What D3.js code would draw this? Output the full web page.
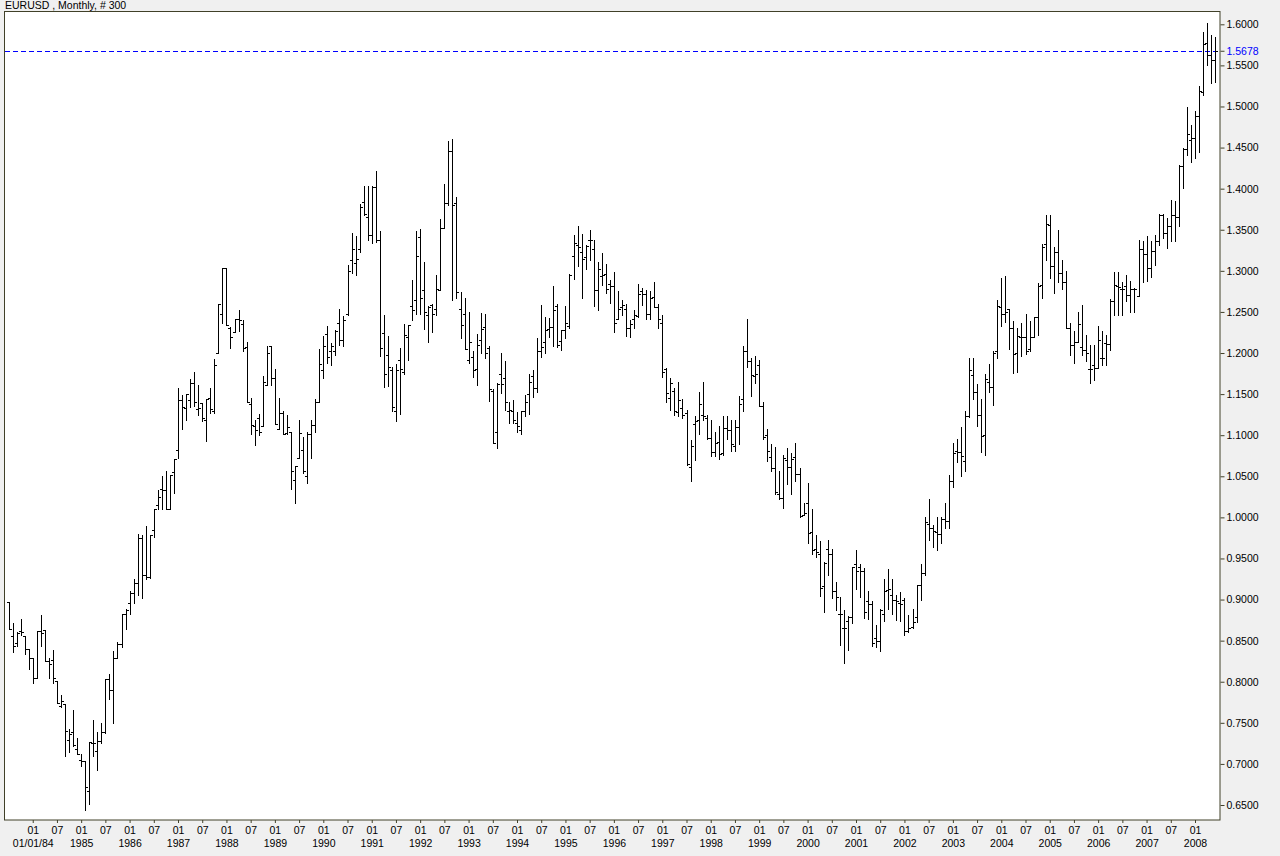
<!DOCTYPE html>
<html>
<head>
<meta charset="utf-8">
<script src="https://cdn.jsdelivr.net/npm/d3@7"></script>
<style>
body { margin: 0; background: #f0f0f0; }
svg { display: block; font-family: "Liberation Sans", Arial, sans-serif; }
</style>
</head>
<body>
<svg id="chart" width="1280" height="856"></svg>
<script>
var title = "EURUSD , Monthly, # 300";
var startYear = 1983, startMonth = 7;   // first bar: July 1983
var lastClose = 1.5678;

// monthly OHLC, July 1983 .. June 2008
var opens = [
 0.897,0.856,0.847,0.862,0.856,0.840,0.829,0.805,0.862,0.863,0.825,0.827,
 0.801,0.770,0.773,0.729,0.739,0.718,0.705,0.704,0.667,0.726,0.716,0.728,
 0.739,0.803,0.790,0.829,0.846,0.882,0.896,0.908,0.920,0.975,0.930,0.927,
 0.985,1.015,1.035,1.033,1.010,1.055,1.082,1.143,1.133,1.143,1.164,1.132,
 1.139,1.118,1.145,1.129,1.200,1.248,1.304,1.230,1.226,1.242,1.235,1.207,
 1.138,1.111,1.121,1.111,1.161,1.208,1.169,1.108,1.127,1.103,1.104,1.045,
 1.072,1.082,1.050,1.102,1.113,1.141,1.179,1.223,1.202,1.203,1.237,1.216,
 1.247,1.313,1.309,1.326,1.384,1.365,1.344,1.402,1.338,1.224,1.198,1.179,
 1.129,1.192,1.177,1.220,1.257,1.265,1.341,1.277,1.246,1.258,1.253,1.277,
 1.352,1.383,1.446,1.383,1.253,1.248,1.192,1.195,1.180,1.216,1.232,1.206,
 1.154,1.104,1.175,1.169,1.129,1.130,1.115,1.106,1.129,1.150,1.172,1.157,
 1.202,1.214,1.229,1.232,1.257,1.215,1.228,1.233,1.318,1.331,1.323,1.317,
 1.338,1.327,1.277,1.294,1.296,1.284,1.282,1.242,1.256,1.254,1.230,1.242,
 1.245,1.276,1.272,1.248,1.268,1.256,1.237,1.180,1.145,1.154,1.128,1.133,
 1.127,1.061,1.114,1.119,1.125,1.121,1.097,1.080,1.092,1.078,1.109,1.106,
 1.087,1.110,1.144,1.203,1.190,1.172,1.186,1.136,1.100,1.074,1.060,1.029,
 1.023,1.070,1.061,1.074,1.053,1.003,1.017,0.982,0.961,0.956,0.917,0.961,
 0.956,0.910,0.883,0.865,0.874,0.879,0.943,0.940,0.935,0.898,0.895,0.853,
 0.849,0.883,0.912,0.906,0.900,0.896,0.900,0.862,0.867,0.879,0.918,0.932,
 0.992,0.987,0.982,0.980,0.998,0.995,1.044,1.081,1.080,1.068,1.123,1.173,
 1.152,1.125,1.100,1.165,1.159,1.203,1.256,1.248,1.254,1.231,1.200,1.220,
 1.219,1.205,1.220,1.244,1.283,1.333,1.356,1.306,1.323,1.297,1.287,1.231,
 1.210,1.214,1.207,1.204,1.181,1.185,1.182,1.194,1.212,1.211,1.263,1.281,
 1.278,1.282,1.271,1.278,1.269,1.327,1.320,1.303,1.324,1.336,1.368,1.346,
 1.355,1.368,1.365,1.428,1.448,1.459,1.462,1.488,1.518,1.577,1.563,1.557
];
var highs = [
 0.897,0.871,0.860,0.876,0.856,0.840,0.829,0.862,0.881,0.863,0.829,0.839,
 0.801,0.784,0.773,0.743,0.766,0.731,0.712,0.704,0.727,0.754,0.739,0.750,
 0.803,0.810,0.837,0.848,0.882,0.889,0.910,0.925,0.980,0.978,0.990,0.979,
 1.010,1.033,1.050,1.057,1.052,1.071,1.157,1.149,1.150,1.168,1.177,1.161,
 1.139,1.144,1.158,1.193,1.260,1.304,1.304,1.232,1.242,1.252,1.240,1.214,
 1.145,1.119,1.126,1.172,1.208,1.208,1.181,1.145,1.130,1.125,1.104,1.062,
 1.119,1.098,1.104,1.119,1.144,1.205,1.221,1.233,1.212,1.228,1.254,1.245,
 1.307,1.346,1.342,1.381,1.403,1.403,1.403,1.421,1.348,1.246,1.221,1.183,
 1.187,1.206,1.235,1.234,1.289,1.349,1.351,1.311,1.257,1.260,1.295,1.363,
 1.406,1.458,1.460,1.390,1.274,1.267,1.250,1.203,1.223,1.249,1.248,1.209,
 1.156,1.164,1.200,1.190,1.141,1.143,1.128,1.129,1.149,1.175,1.179,1.218,
 1.258,1.244,1.243,1.282,1.260,1.228,1.257,1.296,1.344,1.354,1.345,1.331,
 1.350,1.338,1.311,1.322,1.308,1.289,1.298,1.275,1.264,1.260,1.240,1.252,
 1.284,1.279,1.277,1.275,1.287,1.260,1.246,1.182,1.169,1.157,1.165,1.144,
 1.131,1.094,1.123,1.153,1.165,1.125,1.119,1.104,1.111,1.123,1.123,1.119,
 1.118,1.148,1.208,1.241,1.194,1.196,1.192,1.140,1.107,1.089,1.086,1.056,
 1.076,1.084,1.078,1.091,1.060,1.018,1.042,1.010,0.979,0.971,0.946,0.972,
 0.961,0.921,0.903,0.887,0.880,0.940,0.960,0.943,0.938,0.910,0.898,0.869,
 0.888,0.925,0.937,0.925,0.906,0.909,0.902,0.881,0.888,0.918,0.943,1.001,
 1.022,0.991,1.000,1.001,1.018,1.052,1.091,1.095,1.110,1.130,1.194,1.194,
 1.162,1.144,1.175,1.187,1.203,1.265,1.291,1.294,1.254,1.239,1.230,1.237,
 1.247,1.239,1.244,1.285,1.333,1.368,1.368,1.329,1.350,1.313,1.300,1.236,
 1.227,1.250,1.259,1.222,1.210,1.210,1.233,1.227,1.222,1.266,1.298,1.299,
 1.287,1.295,1.288,1.279,1.338,1.336,1.342,1.336,1.344,1.369,1.369,1.364,
 1.386,1.385,1.429,1.449,1.499,1.477,1.494,1.525,1.591,1.602,1.587,1.585
];
var lows = [
 0.864,0.836,0.844,0.857,0.834,0.815,0.798,0.805,0.843,0.825,0.805,0.798,
 0.774,0.769,0.710,0.714,0.722,0.712,0.698,0.644,0.651,0.710,0.692,0.725,
 0.738,0.779,0.750,0.829,0.842,0.864,0.883,0.896,0.905,0.902,0.925,0.926,
 0.976,1.010,1.010,1.010,1.010,1.030,1.072,1.108,1.118,1.134,1.135,1.125,
 1.117,1.093,1.127,1.127,1.200,1.236,1.234,1.206,1.226,1.227,1.203,1.140,
 1.102,1.088,1.100,1.111,1.161,1.161,1.114,1.108,1.102,1.102,1.034,1.017,
 1.072,1.054,1.042,1.072,1.104,1.140,1.169,1.188,1.186,1.198,1.210,1.208,
 1.246,1.297,1.295,1.323,1.368,1.338,1.334,1.335,1.196,1.159,1.160,1.130,
 1.117,1.126,1.175,1.192,1.240,1.248,1.248,1.229,1.214,1.226,1.246,1.277,
 1.352,1.380,1.265,1.267,1.218,1.205,1.188,1.171,1.161,1.200,1.194,1.142,
 1.090,1.084,1.151,1.131,1.115,1.115,1.104,1.102,1.123,1.126,1.147,1.153,
 1.195,1.200,1.220,1.209,1.207,1.204,1.218,1.230,1.290,1.306,1.267,1.302,
 1.313,1.257,1.252,1.283,1.273,1.261,1.225,1.241,1.246,1.221,1.220,1.230,
 1.244,1.258,1.242,1.242,1.256,1.231,1.171,1.141,1.131,1.124,1.123,1.121,
 1.064,1.044,1.070,1.102,1.119,1.095,1.075,1.075,1.071,1.076,1.095,1.081,
 1.081,1.089,1.130,1.183,1.148,1.164,1.136,1.095,1.069,1.056,1.029,1.022,
 1.012,1.041,1.029,1.044,1.000,1.003,0.969,0.956,0.952,0.904,0.885,0.930,
 0.902,0.887,0.845,0.823,0.839,0.872,0.913,0.903,0.877,0.876,0.843,0.842,
 0.837,0.874,0.888,0.883,0.875,0.874,0.857,0.861,0.865,0.873,0.900,0.930,
 0.972,0.964,0.960,0.969,0.987,0.987,1.037,1.067,1.050,1.057,1.122,1.144,
 1.111,1.080,1.076,1.153,1.137,1.194,1.233,1.238,1.205,1.176,1.177,1.196,
 1.199,1.203,1.220,1.222,1.267,1.313,1.291,1.273,1.287,1.278,1.231,1.198,
 1.188,1.213,1.198,1.190,1.164,1.167,1.182,1.186,1.186,1.204,1.246,1.246,
 1.246,1.263,1.250,1.250,1.269,1.287,1.288,1.292,1.307,1.331,1.340,1.328,
 1.336,1.336,1.355,1.401,1.441,1.433,1.437,1.444,1.514,1.551,1.528,1.530
];
var closes = [
 0.864,0.844,0.859,0.861,0.840,0.829,0.805,0.862,0.859,0.825,0.821,0.804,
 0.774,0.777,0.740,0.737,0.723,0.712,0.704,0.672,0.727,0.725,0.728,0.739,
 0.803,0.790,0.829,0.846,0.882,0.887,0.908,0.920,0.975,0.930,0.927,0.979,
 1.010,1.025,1.033,1.010,1.052,1.071,1.143,1.134,1.150,1.163,1.141,1.133,
 1.121,1.144,1.132,1.186,1.260,1.303,1.234,1.220,1.242,1.240,1.206,1.140,
 1.113,1.106,1.104,1.165,1.200,1.169,1.114,1.127,1.102,1.110,1.056,1.062,
 1.103,1.056,1.102,1.113,1.141,1.187,1.209,1.195,1.208,1.227,1.216,1.240,
 1.300,1.327,1.315,1.378,1.369,1.344,1.402,1.338,1.206,1.175,1.183,1.134,
 1.179,1.180,1.222,1.234,1.252,1.318,1.267,1.250,1.256,1.248,1.278,1.352,
 1.383,1.446,1.380,1.274,1.234,1.205,1.213,1.179,1.210,1.229,1.200,1.156,
 1.090,1.162,1.162,1.141,1.131,1.119,1.111,1.129,1.141,1.165,1.157,1.202,
 1.207,1.228,1.232,1.252,1.210,1.228,1.236,1.295,1.334,1.329,1.315,1.330,
 1.338,1.277,1.302,1.295,1.278,1.282,1.237,1.254,1.259,1.230,1.235,1.246,
 1.272,1.272,1.248,1.267,1.256,1.242,1.177,1.151,1.164,1.129,1.143,1.125,
 1.065,1.087,1.117,1.138,1.123,1.097,1.080,1.091,1.077,1.109,1.106,1.089,
 1.110,1.138,1.203,1.190,1.173,1.174,1.136,1.098,1.081,1.060,1.031,1.023,
 1.072,1.061,1.071,1.053,1.002,1.005,0.981,0.960,0.958,0.914,0.945,0.956,
 0.910,0.903,0.883,0.865,0.879,0.940,0.935,0.935,0.885,0.895,0.847,0.849,
 0.887,0.910,0.913,0.900,0.898,0.895,0.862,0.865,0.873,0.918,0.932,0.994,
 0.987,0.983,0.980,0.998,0.995,1.044,1.078,1.080,1.075,1.123,1.179,1.152,
 1.125,1.099,1.168,1.159,1.200,1.257,1.248,1.250,1.231,1.199,1.221,1.219,
 1.203,1.220,1.244,1.281,1.329,1.357,1.306,1.323,1.297,1.287,1.231,1.210,
 1.214,1.235,1.204,1.200,1.181,1.182,1.216,1.194,1.211,1.263,1.283,1.280,
 1.278,1.271,1.278,1.278,1.327,1.320,1.303,1.324,1.336,1.368,1.346,1.355,
 1.368,1.365,1.427,1.448,1.466,1.462,1.488,1.519,1.576,1.563,1.557,1.5678
];

// price axis ticks
var yTicks = [0.65,0.70,0.75,0.80,0.85,0.90,0.95,1.00,1.05,1.10,1.15,1.20,
              1.25,1.30,1.35,1.40,1.45,1.50,1.55,1.60];

// month of each bar (1..12) and year
var months = [], years = [];
for (var i = 0; i < opens.length; i++) {
    var m = startMonth - 1 + i;
    months.push(m % 12 + 1);
    years.push(startYear + Math.floor(m / 12));
}

var axisColor = "#404028";
var svg = d3.select("#chart");

svg.append("rect").attr("width", 1280).attr("height", 856).attr("fill", "#f0f0f0");

svg.append("text")
    .attr("x", 5).attr("y", 9)
    .attr("font-size", "10.5px")
    .attr("fill", "#000")
    .text(title);

// plot frame
svg.append("rect")
    .attr("x", 4.5).attr("y", 11.5)
    .attr("width", 1215.5).attr("height", 808.5)
    .attr("fill", "#fff")
    .attr("stroke", axisColor);

var x = d3.scaleBand()
    .domain(d3.range(opens.length))
    .range([7, 1217.7]);

var y = d3.scaleLinear()
    .domain([0.65, 1.60])
    .range([805, 24.3]);

// current price line
var yLast = Math.round(y(lastClose)) + 0.5;
svg.append("path")
    .attr("d", "M5," + yLast + "H1220")
    .attr("fill", "none")
    .attr("stroke", "rgb(0,0,255)")
    .attr("stroke-width", 1)
    .attr("stroke-dasharray", "5,3")
    .attr("shape-rendering", "crispEdges");

// OHLC bars
function barPath(i) {
    var k = Math.floor(x(i) + x.bandwidth() / 2);
    var yh = Math.round(y(highs[i])), yl = Math.round(y(lows[i]));
    var yo = Math.round(y(opens[i])) + 0.5, yc = Math.round(y(closes[i])) + 0.5;
    return "M" + (k + 0.5) + "," + yh + "V" + (yl + 1) +
           "M" + (k - 2) + "," + yo + "H" + k +
           "M" + (k + 1) + "," + yc + "H" + (k + 3);
}

svg.append("g")
    .selectAll("path")
    .data(d3.range(opens.length))
    .enter().append("path")
    .attr("d", barPath)
    .attr("fill", "none")
    .attr("stroke", "#000")
    .attr("stroke-width", 1)
    .attr("shape-rendering", "crispEdges");

// right price axis
var yAxis = svg.append("g")
    .attr("transform", "translate(1220.5,0)")
    .call(d3.axisRight(y).tickValues(yTicks).tickSize(4).tickPadding(2)
        .tickFormat(d3.format(".4f")));
yAxis.select(".domain").remove();
yAxis.selectAll("line").attr("stroke", axisColor);
yAxis.selectAll("text").attr("font-size", "10.5px").attr("fill", "#000")
    .attr("font-family", "Liberation Sans, Arial, sans-serif");

var lastAxis = svg.append("g")
    .attr("transform", "translate(1220.5,0)")
    .call(d3.axisRight(y).tickValues([lastClose]).tickSize(4).tickPadding(2)
        .tickFormat(d3.format(".4f")));
lastAxis.select(".domain").remove();
lastAxis.selectAll("line").attr("stroke", axisColor);
lastAxis.selectAll("text").attr("font-size", "10.5px").attr("fill", "#0000ff")
    .attr("font-family", "Liberation Sans, Arial, sans-serif");

// bottom time axis: month row and year row, starting at the first January
var januaries = d3.range(opens.length).filter(function (i) { return months[i] === 1; });
var firstJan = januaries[0];
var halfYear = d3.range(firstJan, opens.length).filter(function (i) { return months[i] === 1 || months[i] === 7; });

var xAxis = svg.append("g")
    .attr("transform", "translate(0,820)")
    .call(d3.axisBottom(x).tickValues(halfYear).tickSize(3).tickPadding(4)
        .tickFormat(function (i) { return months[i] === 1 ? "01" : "07"; }));
xAxis.select(".domain").remove();
xAxis.selectAll("line").attr("stroke", axisColor);
xAxis.selectAll("text").attr("font-size", "10.5px").attr("fill", "#000")
    .attr("font-family", "Liberation Sans, Arial, sans-serif");

var yearAxis = svg.append("g")
    .attr("transform", "translate(0,820)")
    .call(d3.axisBottom(x).tickValues(januaries).tickSize(0).tickPadding(20)
        .tickFormat(function (i) {
            return i === firstJan ? "01/01/" + String(years[i]).slice(2) : years[i];
        }));
yearAxis.select(".domain").remove();
yearAxis.selectAll("text").attr("font-size", "10.5px").attr("fill", "#000")
    .attr("font-family", "Liberation Sans, Arial, sans-serif");
</script>
</body>
</html>
